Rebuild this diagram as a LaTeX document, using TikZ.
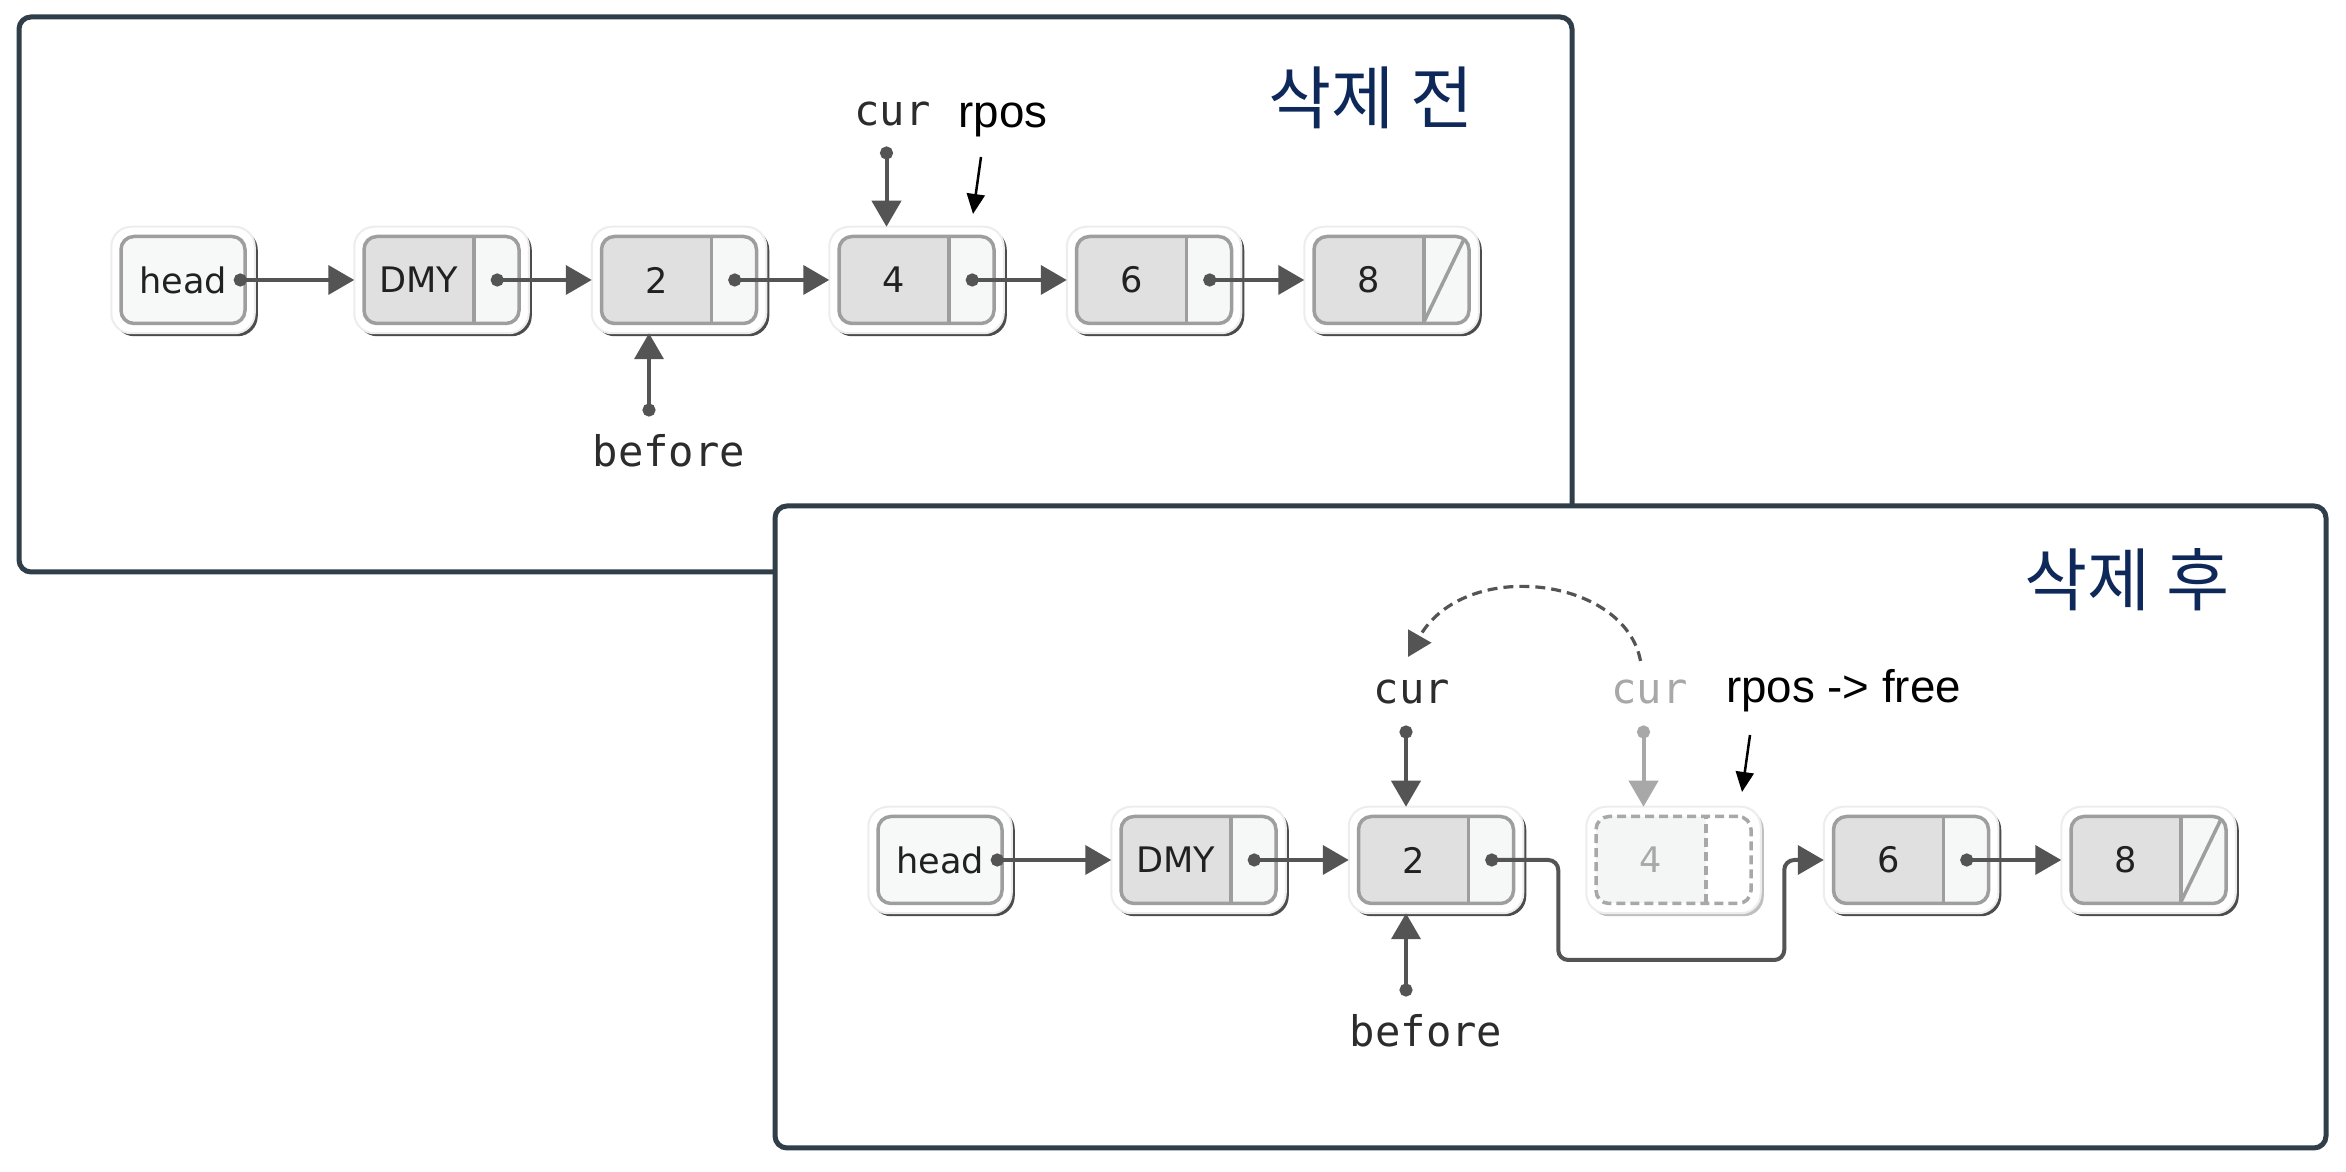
\documentclass[tikz,border=0pt]{standalone}
\usepackage{fontspec}
\newfontfamily\cellfont{DejaVu Sans}
\newfontfamily\varfont{DejaVu Sans Mono}
\newfontfamily\notefont{Liberation Sans}
\newfontfamily\krfont{Noto Sans CJK KR}
\usetikzlibrary{arrows.meta,backgrounds,fit,shadows}

\definecolor{panelline}{RGB}{47,62,72}
\definecolor{cellline}{RGB}{158,158,158}
\definecolor{datafill}{RGB}{224,224,224}
\definecolor{linkfill}{RGB}{246,247,247}
\definecolor{headfill}{RGB}{247,248,248}
\definecolor{ptrgray}{RGB}{84,84,84}
\definecolor{freegray}{RGB}{168,168,168}
\definecolor{freefill}{RGB}{244,245,245}
\definecolor{varcol}{RGB}{44,44,44}
\definecolor{titlecol}{RGB}{14,40,90}

\tikzset{
  panel/.style={draw=panelline, line width=0.5mm, rounded corners=1.2mm, fill=white},
  headbox/.style={draw=cellline, line width=0.35mm, rounded corners=1.3mm, fill=headfill,
    minimum width=12.4mm, minimum height=8.7mm, inner sep=0pt,
    font=\cellfont\fontsize{10}{12}\selectfont, text=black!87},
  cell/.style={headbox, fill=linkfill, minimum width=15.5mm,
    execute at end node={\hspace*{4.5mm}},
    path picture={
      \fill[datafill, sharp corners] (path picture bounding box.south west) rectangle ([xshift=-4.5mm]path picture bounding box.north east);
      \draw[cellline, line width=0.35mm, sharp corners] ([xshift=-4.5mm]path picture bounding box.south east) -- ([xshift=-4.5mm]path picture bounding box.north east);
    }},
  gone/.style={cell, draw=freegray, dash pattern=on 0.9mm off 0.5mm, fill=white, text=freegray,
    path picture={
      \fill[freefill, sharp corners] (path picture bounding box.south west) rectangle ([xshift=-4.5mm]path picture bounding box.north east);
      \draw[freegray, line width=0.35mm, dash pattern=on 0.9mm off 0.5mm, sharp corners] ([xshift=-4.5mm]path picture bounding box.south east) -- ([xshift=-4.5mm]path picture bounding box.north east);
    }},
  halobase/.style={fit=#1, inner sep=0.8mm, rounded corners=2mm, fill=white, draw=black!7, line width=0.2mm},
  halo/.style={halobase=#1, drop shadow={shadow xshift=0.3mm, shadow yshift=-0.3mm, fill=black!70, opacity=1}},
  halofaint/.style={halobase=#1, drop shadow={shadow xshift=0.3mm, shadow yshift=-0.3mm, fill=black!25, opacity=1}},
  ptr/.style={draw=ptrgray, line width=0.4mm, shorten >=0.8mm,
    {Circle[length=1.3mm]}-{Triangle[length=2.6mm,width=2.9mm]}},
  moved/.style={draw=ptrgray, line width=0.32mm, dash pattern=on 1mm off 0.6mm,
    -{Triangle[length=2.4mm,width=2.6mm]}},
  noteptr/.style={draw=black, line width=0.25mm, -{Triangle[length=2mm,width=1.8mm]}},
  var/.style={font=\varfont\fontsize{12}{14}\selectfont, text=varcol, anchor=base},
  note/.style={font=\notefont\fontsize{13}{15}\selectfont, anchor=base},
  title/.style={font=\krfont\fontsize{19.5}{23}\selectfont, text=titlecol}
}

\begin{document}
\begin{tikzpicture}
\useasboundingbox (0mm,0mm) rectangle (234.6mm,117.2mm);
\begin{scope}[on background layer]
  \fill[white] (0mm,0mm) rectangle (234.6mm,117.2mm);
  \draw[panel] (1.9mm,60mm) rectangle (157.2mm,115.5mm);
  \draw[panel] (77.5mm,2.4mm) rectangle (232.6mm,66.6mm);
\end{scope}

% before deletion
\node[title] (t1) at (137.1mm,107.4mm) {삭제 전};
\node[headbox] (h1) at (18.3mm,89.2mm) {head};
\node[cell] (d1) at (44.15mm,89.2mm) {DMY};
\node[cell] (a1) at (67.9mm,89.2mm) {2};
\node[cell] (b1) at (91.65mm,89.2mm) {4};
\node[cell] (c1) at (115.4mm,89.2mm) {6};
\node[cell] (e1) at (139.15mm,89.2mm) {8};
\draw[cellline, line width=0.35mm] ([xshift=-4.7mm,yshift=0.3mm]e1.south east) -- ([xshift=-0.7mm,yshift=-0.5mm]e1.north east);

% after deletion
\node[title] (t2) at (212.7mm,59.2mm) {삭제 후};
\node[headbox] (h2) at (94mm,31.2mm) {head};
\node[cell] (d2) at (119.85mm,31.2mm) {DMY};
\node[cell] (a2) at (143.6mm,31.2mm) {2};
\node[gone] (b2) at (167.35mm,31.2mm) {4};
\node[cell] (c2) at (191.1mm,31.2mm) {6};
\node[cell] (e2) at (214.85mm,31.2mm) {8};
\draw[cellline, line width=0.35mm] ([xshift=-4.7mm,yshift=0.3mm]e2.south east) -- ([xshift=-0.7mm,yshift=-0.5mm]e2.north east);

\begin{scope}[on background layer]
  \foreach \c in {h1,d1,a1,b1,c1,e1,h2,d2,a2,c2,e2}
    \node[halo=(\c)] {};
  \node[halofaint=(b2)] {};
\end{scope}

% links
\draw[ptr] ([xshift=-1.3mm]h1.east) -- (d1);
\draw[ptr] ([xshift=-1.3mm]h2.east) -- (d2);
\foreach \p/\q in {d1/a1,a1/b1,b1/c1,c1/e1,d2/a2,c2/e2}
  \draw[ptr] ([xshift=-3mm]\p.east) -- (\q);
\draw[ptr, rounded corners=1mm] ([xshift=-3mm]a2.east) -- ++(7.3mm,0) -- ++(0,-10mm) -- ++(22.6mm,0) |- (c2);

% pointers, top
\node[var] (cur1) at (89.25mm,104.6mm) {cur};
\coordinate (cur1p) at (88.65mm,102.55mm);
\draw[ptr] (cur1p) -- (cur1p |- b1.north);
\node[note] (rpos1) at (100.3mm,104.4mm) {rpos};
\coordinate (rpos1a) at (98.1mm,101.5mm);
\coordinate (rpos1b) at (97.3mm,95.8mm);
\draw[noteptr] (rpos1a) -- (rpos1b);
\node[var] (bef1) at (66.9mm,70.5mm) {before};
\coordinate (bef1p) at (64.9mm,75.55mm);
\draw[ptr] (bef1p) -- (bef1p |- a1.south);

% pointers, bottom
\node[var] (cur2) at (141.2mm,46.8mm) {cur};
\coordinate (cur2p) at (140.6mm,44.65mm);
\draw[ptr] (cur2p) -- (cur2p |- a2.north);
\node[var, text=freegray] (cur3) at (164.95mm,46.8mm) {cur};
\coordinate (cur3p) at (164.35mm,44.65mm);
\draw[ptr, draw=freegray] (cur3p) -- (cur3p |- b2.north);
\draw[moved] ([shift={(-0.9mm,0.7mm)}]cur3.north) .. controls (162.5mm,59.5mm) and (146.5mm,61.5mm) .. ([shift={(-0.4mm,1.1mm)}]cur2.north);
\node[note] (rpos2) at (184.35mm,46.9mm) {rpos -> free};
\coordinate (rpos2a) at (175mm,43.7mm);
\coordinate (rpos2b) at (174.2mm,38mm);
\draw[noteptr] (rpos2a) -- (rpos2b);
\node[var] (bef2) at (142.6mm,12.5mm) {before};
\coordinate (bef2p) at (140.6mm,17.55mm);
\draw[ptr] (bef2p) -- (bef2p |- a2.south);
\end{tikzpicture}
\end{document}
